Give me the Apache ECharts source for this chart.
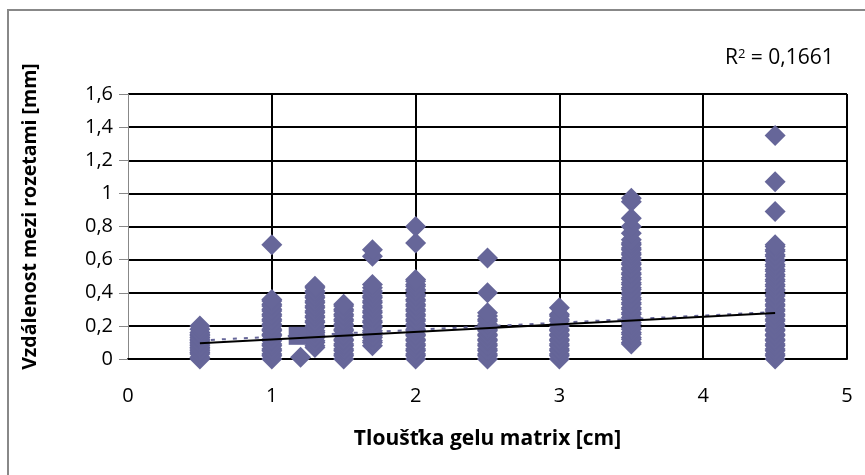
<!DOCTYPE html>
<html>
<head>
<meta charset="utf-8">
<script src="https://cdn.jsdelivr.net/npm/echarts@6/dist/echarts.min.js"></script>
<style>
html,body{margin:0;padding:0;background:#fff;}
#chart{width:865px;height:475px;}
</style>
</head>
<body>
<div id="chart"></div>
<script>
// Thickness of gel matrix (cm) -> measured distances (mm)
const thick05 = [0.00, 0.01, 0.03, 0.04, 0.05, 0.06, 0.07, 0.08, 0.09, 0.10, 0.11, 0.12, 0.13, 0.14, 0.15, 0.16, 0.18, 0.20];
const thick10 = [0.00, 0.02, 0.03, 0.05, 0.06, 0.08, 0.09, 0.11, 0.12, 0.14, 0.15, 0.17, 0.18, 0.20, 0.21, 0.23, 0.24, 0.26, 0.27, 0.29, 0.30, 0.32, 0.33, 0.35, 0.36, 0.69];
const thick12 = [0.01];
const thick13 = [0.07, 0.08, 0.10, 0.11, 0.13, 0.14, 0.16, 0.17, 0.19, 0.20, 0.22, 0.23, 0.25, 0.26, 0.28, 0.29, 0.31, 0.32, 0.34, 0.35, 0.37, 0.38, 0.40, 0.41, 0.43, 0.44];
const thick15 = [0.00, 0.02, 0.03, 0.05, 0.06, 0.08, 0.09, 0.11, 0.12, 0.14, 0.15, 0.17, 0.18, 0.20, 0.21, 0.23, 0.24, 0.26, 0.27, 0.29, 0.30, 0.32, 0.33];
const thick17 = [0.08, 0.10, 0.11, 0.13, 0.14, 0.16, 0.17, 0.19, 0.20, 0.22, 0.23, 0.25, 0.26, 0.28, 0.29, 0.31, 0.32, 0.34, 0.35, 0.37, 0.38, 0.40, 0.41, 0.43, 0.45, 0.62, 0.66];
const thick20 = [0.00, 0.02, 0.03, 0.05, 0.06, 0.08, 0.09, 0.11, 0.12, 0.14, 0.15, 0.17, 0.18, 0.20, 0.21, 0.23, 0.24, 0.26, 0.27, 0.29, 0.30, 0.32, 0.33, 0.35, 0.36, 0.38, 0.39, 0.41, 0.42, 0.44, 0.45, 0.47, 0.48, 0.70, 0.80];
const thick25 = [0.00, 0.02, 0.03, 0.05, 0.06, 0.08, 0.09, 0.11, 0.12, 0.14, 0.15, 0.17, 0.18, 0.20, 0.21, 0.23, 0.24, 0.26, 0.28, 0.40, 0.61];
const thick30 = [0.00, 0.02, 0.03, 0.05, 0.06, 0.08, 0.09, 0.11, 0.12, 0.14, 0.15, 0.17, 0.18, 0.20, 0.21, 0.23, 0.24, 0.26, 0.27, 0.31];
const thick35 = [0.09, 0.10, 0.12, 0.13, 0.15, 0.16, 0.18, 0.19, 0.21, 0.22, 0.24, 0.25, 0.27, 0.28, 0.30, 0.31, 0.33, 0.34, 0.36, 0.37, 0.39, 0.40, 0.42, 0.43, 0.45, 0.46, 0.48, 0.49, 0.51, 0.52, 0.54, 0.55, 0.57, 0.58, 0.60, 0.61, 0.63, 0.64, 0.66, 0.67, 0.69, 0.70, 0.72, 0.76, 0.80, 0.85, 0.95, 0.97];
const thick45 = [0.00, 0.02, 0.03, 0.05, 0.06, 0.08, 0.09, 0.11, 0.12, 0.14, 0.15, 0.17, 0.18, 0.20, 0.21, 0.23, 0.24, 0.26, 0.27, 0.29, 0.30, 0.32, 0.33, 0.35, 0.36, 0.38, 0.39, 0.41, 0.42, 0.44, 0.45, 0.47, 0.48, 0.50, 0.51, 0.53, 0.54, 0.56, 0.57, 0.59, 0.60, 0.62, 0.63, 0.65, 0.66, 0.68, 0.69, 0.89, 1.07, 1.35];

const thicknesses = [0.5, 1, 1.2, 1.3, 1.5, 1.7, 2, 2.5, 3, 3.5, 4.5];
const groups = [thick05, thick10, thick12, thick13, thick15, thick17, thick20, thick25, thick30, thick35, thick45];

// square marker point
const squareX = [1.18];
const squareY = [0.14];

// trend lines
const trendX = [0.5, 4.5];
const trendLinear = [0.095, 0.277];
const trendDotted = [0.112, 0.284];

const r2Text = 'R{s|2} = 0,1661';
const xTicks = [0, 1, 2, 3, 4, 5];
const yTicks = [0, 0.2, 0.4, 0.6, 0.8, 1, 1.2, 1.4, 1.6];

const scatterData = [];
groups.forEach((g, i) => g.forEach(v => scatterData.push([thicknesses[i], v])));
const squareData = squareX.map((x, i) => [x, squareY[i]]);
const linData = trendX.map((x, i) => [x, trendLinear[i]]);
const dotData = trendX.map((x, i) => [x, trendDotted[i]]);

const FONT = "'Open Sans', 'Liberation Sans', sans-serif";
const col = '#666699';

const chart = echarts.init(document.getElementById('chart'), null, {renderer: 'canvas'});
chart.setOption({
  backgroundColor: '#ffffff',
  animation: false,
  grid: {left: 128, right: 18, top: 94, bottom: 116, containLabel: false},
  xAxis: {
    type: 'value', min: xTicks[0], max: xTicks[xTicks.length - 1], interval: 1,
    name: 'Tloušťka gelu matrix [cm]', nameLocation: 'middle', nameGap: 70,
    nameTextStyle: {fontFamily: FONT, fontSize: 21, fontWeight: 'bold', color: '#000'},
    axisLine: {show: true, lineStyle: {color: '#000', width: 2}},
    axisTick: {show: false},
    axisLabel: {margin: 27, fontFamily: FONT, fontSize: 20, color: '#000'},
    splitLine: {show: true, showMinLine: false, lineStyle: {color: '#000', width: 2}}
  },
  yAxis: {
    type: 'value', min: yTicks[0], max: yTicks[yTicks.length - 1], interval: 0.2,
    name: 'Vzdálenost mezi rozetami [mm]', nameLocation: 'middle', nameGap: 88,
    nameTextStyle: {fontFamily: FONT, fontSize: 19.5, fontWeight: 'bold', color: '#000',
      padding: [0, 0, 0, 20]},
    axisLine: {show: true, lineStyle: {color: '#888', width: 1}},
    axisTick: {show: true, length: 9, lineStyle: {color: '#888', width: 1}},
    axisLabel: {margin: 15, fontFamily: FONT, fontSize: 20, color: '#000',
      formatter: v => String(+v.toFixed(1)).replace('.', ',')},
    splitLine: {show: true, lineStyle: {color: '#000', width: 2}}
  },
  graphic: [
    {type: 'rect', shape: {x: 8, y: 10, width: 900, height: 500},
     style: {fill: 'none', stroke: '#888', lineWidth: 2}, z: -1, silent: true},
    {type: 'text', left: 725, top: 48, z: 10,
     style: {text: r2Text, font: '21px ' + FONT, fill: '#000',
       rich: {s: {fontSize: 13, fontFamily: FONT, verticalAlign: 'top', lineHeight: 12, fill: '#000'}}}}
  ],
  series: [
    {type: 'scatter', data: scatterData, symbol: 'diamond', symbolSize: 21,
     itemStyle: {color: col, opacity: 1}, z: 2},
    {type: 'scatter', data: squareData, symbol: 'rect', symbolSize: 18,
     itemStyle: {color: col, opacity: 1}, z: 2},
    {type: 'line', data: dotData, symbol: 'none', z: 3,
     lineStyle: {color: col, width: 2, type: [4, 7]}},
    {type: 'line', data: linData, symbol: 'none', z: 4,
     lineStyle: {color: '#000', width: 2}}
  ]
});
</script>
</body>
</html>
